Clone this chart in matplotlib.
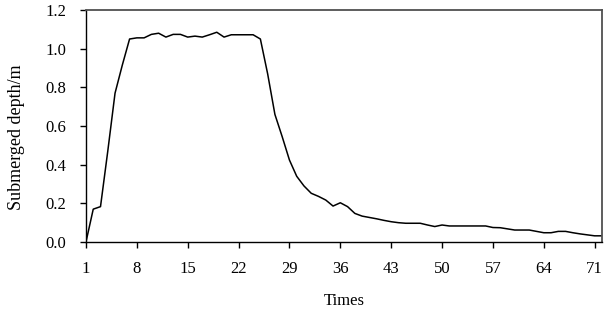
import matplotlib
matplotlib.use("Agg")
import matplotlib.pyplot as plt

# submerged depth (m) for each of the 72 times
times = list(range(1, 73))
depth = [
    0.00, 0.17, 0.183, 0.47, 0.77, 0.915, 1.05, 1.056, 1.056, 1.074,
    1.08, 1.06, 1.074, 1.074, 1.06, 1.065, 1.06, 1.072, 1.085, 1.06,
    1.072, 1.072, 1.072, 1.072, 1.05, 0.87, 0.66, 0.545, 0.424, 0.34,
    0.29, 0.252, 0.236, 0.217, 0.186, 0.203, 0.183, 0.148, 0.134, 0.127,
    0.12, 0.112, 0.105, 0.1, 0.097, 0.097, 0.097, 0.088, 0.08, 0.088,
    0.083, 0.083, 0.083, 0.083, 0.083, 0.083, 0.075, 0.074, 0.068, 0.062,
    0.062, 0.062, 0.055, 0.048, 0.048, 0.055, 0.055, 0.048, 0.042, 0.037,
    0.032, 0.032,
]
xticks = [1, 8, 15, 22, 29, 36, 43, 50, 57, 64, 71]
yticks = [0.0, 0.2, 0.4, 0.6, 0.8, 1.0, 1.2]

plt.rcParams["font.family"] = ["Liberation Serif", "DejaVu Serif"]
plt.rcParams["font.size"] = 12

fig = plt.figure(figsize=(6.08, 3.15), dpi=100)
ax = fig.add_axes([0.1414, 0.2317, 0.8486, 0.7365])
ax.plot(times, depth, color="black", lw=1.1)

ax.set_xlim(1, 72)
ax.set_ylim(0, 1.2)
ax.set_xticks(xticks)
ax.set_yticks(yticks)
ax.set_yticklabels([f"{v:.1f}" for v in yticks])
ax.tick_params(direction="out", length=4, width=1, colors="black")
ax.tick_params(axis="x", pad=10)
ax.tick_params(axis="y", pad=10)

for side in ["left", "bottom"]:
    ax.spines[side].set_color("black")
    ax.spines[side].set_linewidth(1.0)
for side in ["top", "right"]:
    ax.spines[side].set_color("#505050")
    ax.spines[side].set_linewidth(1.3)

ax.set_xlabel("Times", labelpad=11)
ax.set_ylabel("Submerged depth/m", fontsize=13, labelpad=15, y=0.45)

fig.savefig("out.png", dpi=100)
